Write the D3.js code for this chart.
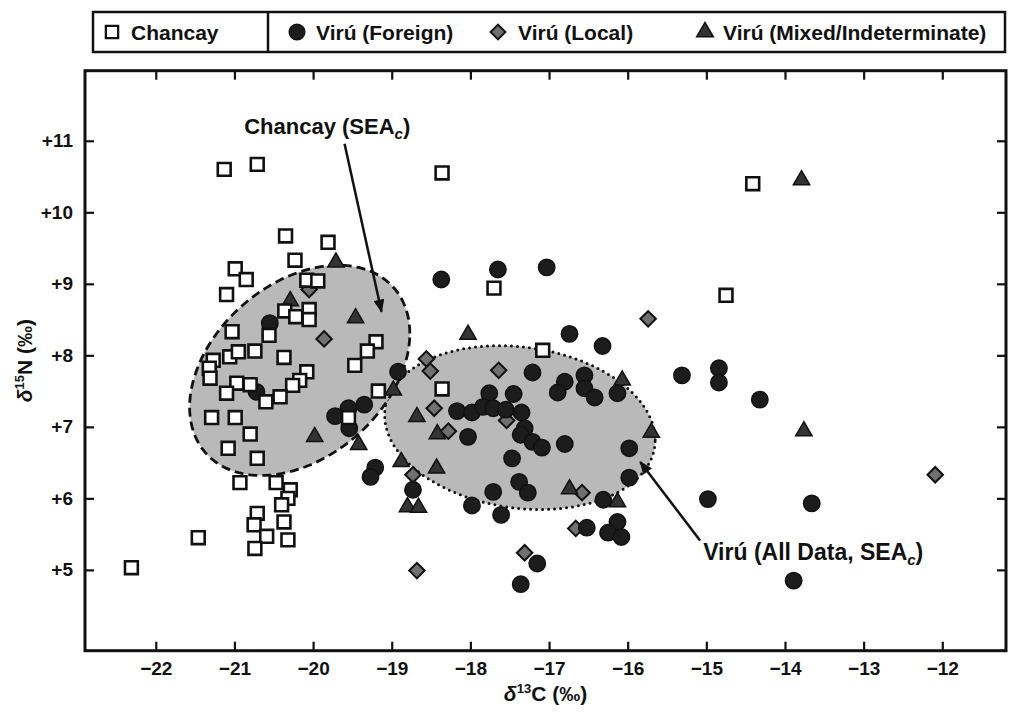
<!DOCTYPE html>
<html>
<head>
<meta charset="utf-8">
<script src="https://cdn.jsdelivr.net/npm/d3@7"></script>
<style>
  body { margin: 0; background: #fff; }
  text { font-family: "Liberation Sans", Arial, sans-serif; font-weight: bold; fill: #111; }
</style>
</head>
<body>
<div id="chart"></div>
<script>
// ---- data (d13C, d15N) ----
var chancay = [
  [-22.31, 5.03], [-21.46, 5.45], [-21.13, 10.60], [-20.71, 10.67], [-18.36, 10.55],
  [-14.41, 10.40], [-14.75, 8.84], [-17.70, 8.94], [-17.08, 8.07], [-18.36, 7.53],
  [-19.17, 7.50], [-19.55, 7.13], [-19.20, 8.19], [-19.31, 8.06], [-19.47, 7.86],
  [-20.35, 9.67], [-19.81, 9.58], [-20.23, 9.33], [-20.99, 9.21], [-20.85, 9.06],
  [-21.10, 8.85], [-20.08, 9.05], [-19.94, 9.04], [-20.36, 8.62], [-20.05, 8.64],
  [-20.22, 8.54], [-20.05, 8.50], [-20.56, 8.28], [-21.03, 8.33], [-21.27, 7.93],
  [-21.06, 7.98], [-20.95, 8.05], [-20.74, 8.06], [-20.37, 7.97], [-20.08, 7.77],
  [-20.17, 7.65], [-20.26, 7.58], [-21.32, 7.82], [-21.31, 7.68], [-20.97, 7.61],
  [-20.80, 7.59], [-21.10, 7.47], [-20.60, 7.35], [-20.42, 7.42], [-21.29, 7.13],
  [-20.99, 7.13], [-20.80, 6.90], [-21.08, 6.70], [-20.71, 6.56], [-20.93, 6.22],
  [-20.47, 6.22], [-20.29, 6.12], [-20.32, 6.00], [-20.40, 5.91], [-20.71, 5.79],
  [-20.75, 5.63], [-20.59, 5.47], [-20.74, 5.30], [-20.37, 5.67], [-20.32, 5.42]
];
var viruForeign = [
  [-20.55, 8.45], [-20.72, 7.49], [-19.72, 7.15], [-19.55, 7.26], [-19.35, 7.31],
  [-19.54, 6.98], [-19.21, 6.43], [-19.27, 6.30], [-18.92, 7.77], [-18.37, 9.06],
  [-17.65, 9.20], [-17.03, 9.23], [-16.74, 8.30], [-16.32, 8.13], [-17.21, 7.76],
  [-16.80, 7.63], [-16.55, 7.72], [-16.55, 7.54], [-16.89, 7.48], [-16.42, 7.41],
  [-16.13, 7.47], [-17.76, 7.47], [-17.45, 7.46], [-18.17, 7.22], [-17.98, 7.20],
  [-17.84, 7.28], [-17.71, 7.26], [-17.55, 7.24], [-17.35, 7.20], [-17.31, 6.98],
  [-17.36, 6.89], [-17.21, 6.79], [-17.09, 6.71], [-18.03, 6.86], [-16.80, 6.76],
  [-15.98, 6.70], [-17.47, 6.56], [-18.73, 6.12], [-17.71, 6.09], [-17.38, 6.23],
  [-17.27, 6.08], [-17.98, 5.90], [-17.61, 5.77], [-16.31, 5.98], [-15.98, 6.29],
  [-16.13, 5.67], [-16.25, 5.52], [-16.08, 5.46], [-16.52, 5.59], [-17.15, 5.09],
  [-17.36, 4.80], [-15.31, 7.72], [-14.84, 7.82], [-14.84, 7.62], [-14.32, 7.38],
  [-14.98, 5.99], [-13.66, 5.93], [-13.89, 4.85]
];
var viruLocal = [
  [-20.05, 8.92], [-19.86, 8.23], [-18.56, 7.95], [-18.51, 7.78], [-17.64, 7.79],
  [-18.46, 7.26], [-18.28, 6.94], [-17.54, 7.09], [-18.73, 6.33], [-16.58, 6.08],
  [-16.66, 5.58], [-17.31, 5.24], [-18.68, 4.99], [-15.74, 8.51], [-12.09, 6.33]
];
var viruMixed = [
  [-19.71, 9.30], [-20.29, 8.76], [-19.46, 8.52], [-19.98, 6.86], [-19.42, 6.75],
  [-18.98, 7.51], [-18.03, 8.29], [-18.68, 7.14], [-18.42, 6.90], [-18.88, 6.51],
  [-18.43, 6.42], [-18.80, 5.88], [-18.66, 5.87], [-16.74, 6.13], [-16.13, 5.95],
  [-16.07, 7.65], [-15.70, 6.92], [-13.79, 10.45], [-13.76, 6.94]
];

// standard ellipses (centre x, centre y, half-width x, half-height y, correlation)
var seaChancay = [-20.17, 7.79, 1.40, 1.47, 0.35];
var seaViru = [-17.37, 6.99, 1.72, 1.145, -0.15];

var xTicks = [-22, -21, -20, -19, -18, -17, -16, -15, -14, -13, -12];
var yTicks = [5, 6, 7, 8, 9, 10, 11];

// ---- layout ----
var width = 1012, height = 713;
var pLeft = 85, pRight = 1006, pTop = 70.7, pBottom = 650.7;

var svg = d3.select("#chart").append("svg")
  .attr("width", width)
  .attr("height", height);

var x = d3.scaleLinear().domain([-22.9, -11.19]).range([pLeft, pRight]);
var y = d3.scaleLinear().domain([3.87, 11.98]).range([pBottom, pTop]);

// arrow marker
svg.append("defs").append("marker")
  .attr("id", "arrow")
  .attr("viewBox", "0 0 12 10")
  .attr("refX", 11).attr("refY", 5)
  .attr("markerWidth", 14).attr("markerHeight", 11)
  .attr("markerUnits", "userSpaceOnUse")
  .attr("orient", "auto")
  .append("path")
  .attr("d", "M0,0 L12,5 L0,10 Z")
  .attr("fill", "#111");

// ellipses
function ellipsePoints(e) {
  var pts = [];
  var s = Math.sqrt(1 - e[4] * e[4]);
  for (var i = 0; i <= 120; i++) {
    var t = i / 120 * 2 * Math.PI;
    pts.push([e[0] + e[2] * Math.cos(t), e[1] + e[3] * (e[4] * Math.cos(t) + s * Math.sin(t))]);
  }
  return pts;
}
var line = d3.line()
  .x(function (d) { return x(d[0]); })
  .y(function (d) { return y(d[1]); });

svg.append("path")
  .datum(ellipsePoints(seaViru))
  .attr("d", line)
  .attr("fill", "#b9b9b9")
  .attr("stroke", "#111")
  .attr("stroke-width", 3)
  .attr("stroke-linecap", "round")
  .attr("stroke-dasharray", "0,6");

svg.append("path")
  .datum(ellipsePoints(seaChancay))
  .attr("d", line)
  .attr("fill", "#b9b9b9")
  .attr("stroke", "#111")
  .attr("stroke-width", 2.8)
  .attr("stroke-dasharray", "9,5");

// axes (ticks point inward)
function styleAxis(g) {
  g.select(".domain").remove();
  g.selectAll(".tick line").attr("stroke", "#111").attr("stroke-width", 2.2);
  g.selectAll(".tick text")
    .attr("font-family", null)
    .attr("font-size", 19)
    .attr("fill", "#111");
}

svg.append("g")
  .attr("transform", "translate(0," + pBottom + ")")
  .call(d3.axisBottom(x).tickValues(xTicks).tickSizeInner(-9).tickSizeOuter(0).tickPadding(11)
    .tickFormat(function (d) { return "\u2212" + Math.abs(d); }))
  .call(styleAxis);

svg.append("g")
  .attr("transform", "translate(0," + pTop + ")")
  .call(d3.axisTop(x).tickValues(xTicks).tickSizeInner(-9).tickSizeOuter(0).tickFormat(""))
  .call(styleAxis);

svg.append("g")
  .attr("transform", "translate(" + pLeft + ",0)")
  .call(d3.axisLeft(y).tickValues(yTicks).tickSizeInner(-9).tickSizeOuter(0).tickPadding(12)
    .tickFormat(function (d) { return "+" + d; }))
  .call(styleAxis);

svg.append("g")
  .attr("transform", "translate(" + pRight + ",0)")
  .call(d3.axisRight(y).tickValues(yTicks).tickSizeInner(-9).tickSizeOuter(0).tickFormat(""))
  .call(styleAxis);

// frame
svg.append("rect")
  .attr("x", pLeft).attr("y", pTop)
  .attr("width", pRight - pLeft).attr("height", pBottom - pTop)
  .attr("fill", "none")
  .attr("stroke", "#111")
  .attr("stroke-width", 3);

// annotations
svg.append("line")
  .attr("x1", x(-19.60)).attr("y1", y(10.96))
  .attr("x2", x(-19.13)).attr("y2", y(8.61))
  .attr("stroke", "#111").attr("stroke-width", 2.5)
  .attr("marker-end", "url(#arrow)");

svg.append("line")
  .attr("x1", x(-15.08)).attr("y1", y(5.41))
  .attr("x2", x(-15.84)).attr("y2", y(6.51))
  .attr("stroke", "#111").attr("stroke-width", 2.5)
  .attr("marker-end", "url(#arrow)");

function labelSEA(g, main) {
  g.append("tspan").text(main);
  g.append("tspan").text("c").attr("font-style", "italic").attr("font-size", 15).attr("dy", 5);
  g.append("tspan").text(")").attr("dy", -5);
}

var lab1 = svg.append("text")
  .attr("x", x(-19.82)).attr("y", y(11.10))
  .attr("text-anchor", "middle")
  .attr("font-size", 22);
labelSEA(lab1, "Chancay (SEA");

var lab2 = svg.append("text")
  .attr("x", x(-15.04)).attr("y", y(5.14))
  .attr("font-size", 23);
labelSEA(lab2, "Vir\u00fa (All Data, SEA");

// points
function drawPoints(data, type, size, fill, stroke, sw, rot) {
  svg.append("g").selectAll("path")
    .data(data)
    .join("path")
    .attr("d", d3.symbol().type(type).size(size))
    .attr("transform", function (d) {
      return "translate(" + x(d[0]) + "," + y(d[1]) + ")" + (rot ? " rotate(45)" : "");
    })
    .attr("fill", fill)
    .attr("stroke", stroke)
    .attr("stroke-width", sw);
}
drawPoints(viruLocal, d3.symbolSquare, 120, "#707070", "#111", 2, true);
drawPoints(viruForeign, d3.symbolCircle, 210, "#1c1c1c", "#111", 1.5, false);
drawPoints(viruMixed, d3.symbolTriangle, 115, "#333", "#111", 1.5, false);
drawPoints(chancay, d3.symbolSquare, 165, "#fff", "#111", 2.6, false);

// axis titles
var xt = svg.append("text")
  .attr("x", (pLeft + pRight) / 2).attr("y", 701)
  .attr("text-anchor", "middle")
  .attr("font-size", 21);
xt.append("tspan").text("\u03b4").attr("font-style", "italic");
xt.append("tspan").text("13").attr("font-size", 13).attr("dy", -8);
xt.append("tspan").text("C (\u2030)").attr("dy", 8);

var yt = svg.append("text")
  .attr("transform", "translate(32," + (pTop + pBottom) / 2 + ") rotate(-90)")
  .attr("text-anchor", "middle")
  .attr("font-size", 21);
yt.append("tspan").text("\u03b4").attr("font-style", "italic");
yt.append("tspan").text("15").attr("font-size", 13).attr("dy", -8);
yt.append("tspan").text("N (\u2030)").attr("dy", 8);

// legend
var lg = svg.append("g");
lg.append("rect")
  .attr("x", 93).attr("y", 12).attr("width", 912).attr("height", 40)
  .attr("fill", "#fff").attr("stroke", "#111").attr("stroke-width", 2.5);
lg.append("line")
  .attr("x1", 268).attr("x2", 268).attr("y1", 12).attr("y2", 52)
  .attr("stroke", "#111").attr("stroke-width", 2.5);

var legendItems = [
  { name: "Chancay", type: d3.symbolSquare, size: 150, fill: "#fff", sw: 2.3, rot: false, sx: 112, tx: 131 },
  { name: "Vir\u00fa (Foreign)", type: d3.symbolCircle, size: 190, fill: "#1c1c1c", sw: 1.5, rot: false, sx: 297, tx: 316 },
  { name: "Vir\u00fa (Local)", type: d3.symbolSquare, size: 110, fill: "#707070", sw: 2, rot: true, sx: 498, tx: 518 },
  { name: "Vir\u00fa (Mixed/Indeterminate)", type: d3.symbolTriangle, size: 120, fill: "#333", sw: 1.5, rot: false, sx: 705, tx: 723 }
];
legendItems.forEach(function (it) {
  lg.append("path")
    .attr("d", d3.symbol().type(it.type).size(it.size))
    .attr("transform", "translate(" + it.sx + ",32)" + (it.rot ? " rotate(45)" : ""))
    .attr("fill", it.fill).attr("stroke", "#111").attr("stroke-width", it.sw);
  lg.append("text")
    .attr("x", it.tx).attr("y", 40)
    .attr("font-size", 21)
    .text(it.name);
});
</script>
</body>
</html>
